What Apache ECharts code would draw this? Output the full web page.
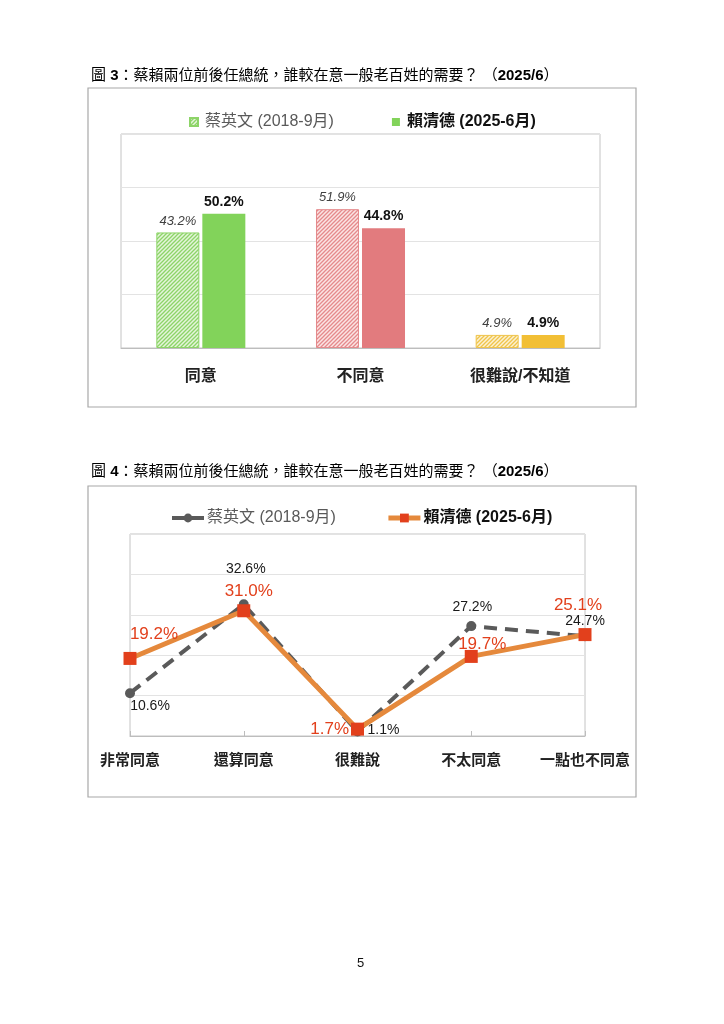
<!DOCTYPE html>
<html><head><meta charset="utf-8">
<script src="https://cdn.jsdelivr.net/npm/echarts@6/dist/echarts.min.js"></script>
<style>
html,body{margin:0;padding:0;background:#fff;width:724px;height:1024px;overflow:hidden}
#c1{position:absolute;left:0;top:0;width:724px;height:430px}
#c2{position:absolute;left:0;top:430px;width:724px;height:594px}
</style></head><body>
<div id="c1"></div><div id="c2"></div>
<script>
// ---- data ----
const seriesNames = ['蔡英文 (2018-9月)', '賴清德 (2025-6月)'];
const barCategories = ['同意', '不同意', '很難說/不知道'];
const tsaiBar = [43.2, 51.9, 4.9];
const laiBar = [50.2, 44.8, 4.9];
const lineCategories = ['非常同意', '還算同意', '很難說', '不太同意', '一點也不同意'];
const tsaiLine = [10.6, 32.6, 1.1, 27.2, 24.7];
const laiLine = [19.2, 31.0, 1.7, 19.7, 25.1];
const barTitle = '圖 {b|3}：蔡賴兩位前後任總統，誰較在意一般老百姓的需要？ （{b|2025/6}）';
const lineTitle = '圖 {b|4}：蔡賴兩位前後任總統，誰較在意一般老百姓的需要？ （{b|2025/6}）';
const pageNumber = '5';

// ---- styles ----
const FONT = "'Liberation Sans', Arial, 'Noto Sans CJK TC', sans-serif";
const solidColors = ['#82D35A', '#E27B7E', '#F2BF35'];
const hatchBg = ['#E4F5DA', '#FBE4E4', '#FCF1D2'];
const hatchFg = ['#8DD468', '#E58A8C', '#F0C44A'];

function hatch(bg, fg) {
  const c = document.createElement('canvas');
  c.width = 4; c.height = 4;
  const g = c.getContext('2d');
  g.fillStyle = bg; g.fillRect(0, 0, 4, 4);
  g.strokeStyle = fg; g.lineWidth = 1.3;
  g.beginPath();
  g.moveTo(0, 4); g.lineTo(4, 0);
  g.moveTo(-1, 1); g.lineTo(1, -1);
  g.moveTo(3, 5); g.lineTo(5, 3);
  g.stroke();
  return { image: c, repeat: 'repeat' };
}

const titleStyle = { fontFamily: FONT, fontSize: 15, fontWeight: 'normal', color: '#000',
  rich: { b: { fontFamily: FONT, fontSize: 15, fontWeight: 'bold', color: '#000' } } };

// ---- chart 1 (bars) ----
const c1 = echarts.init(document.getElementById('c1'), null, { renderer: 'canvas' });
c1.setOption({
  animation: false,
  textStyle: { fontFamily: FONT },
  title: { left: 86, top: 63, text: barTitle, textStyle: titleStyle },
  graphic: [{ type: 'rect', shape: { x: 88, y: 88, width: 548, height: 319 },
    style: { fill: 'none', stroke: '#A8A8A8', lineWidth: 1.2 }, silent: true }],
  legend: {
    left: 184, top: 109, itemWidth: 8, itemHeight: 8, itemGap: 58,
    textStyle: { fontFamily: FONT, fontSize: 16, color: '#595959', padding: [0, 0, 0, 2] },
    data: [
      { name: seriesNames[0], icon: 'rect' },
      { name: seriesNames[1], icon: 'rect', textStyle: { fontWeight: 'bold', color: '#111' } }
    ]
  },
  grid: { left: 121, right: 124, top: 134, height: 214, show: true, borderColor: '#C4C4C4', borderWidth: 1 },
  xAxis: {
    type: 'category', data: barCategories,
    axisLine: { lineStyle: { color: '#BDBDBD' } },
    axisTick: { inside: true, length: 5, lineStyle: { color: '#BDBDBD' } },
    axisLabel: { interval: 0, margin: 21, fontFamily: FONT, fontSize: 16, fontWeight: 'bold', color: '#222' }
  },
  yAxis: {
    type: 'value', min: 0, max: 80, interval: 20,
    axisLabel: { show: false }, axisLine: { show: false }, axisTick: { show: false },
    splitLine: { lineStyle: { color: '#E3E3E3' } }
  },
  series: [
    {
      name: seriesNames[0], type: 'bar', barWidth: 43, barGap: '7%',
      itemStyle: { color: hatch(hatchBg[0], hatchFg[0]), borderColor: hatchFg[0], borderWidth: 1 },
      label: { show: true, position: 'top', distance: 5, formatter: '{c}%',
        fontFamily: FONT, fontSize: 13, fontStyle: 'italic', color: '#404040' },
      data: tsaiBar.map((v, i) => ({ value: v,
        itemStyle: { color: hatch(hatchBg[i], hatchFg[i]), borderColor: hatchFg[i], borderWidth: 1 } }))
    },
    {
      name: seriesNames[1], type: 'bar', barWidth: 43,
      itemStyle: { color: solidColors[0] },
      label: { show: true, position: 'top', distance: 5, formatter: '{c}%',
        fontFamily: FONT, fontSize: 14, fontWeight: 'bold', color: '#111' },
      data: laiBar.map((v, i) => ({ value: v, itemStyle: { color: solidColors[i] } }))
    }
  ]
});

// ---- chart 2 (lines) ----
const tsaiLabelLayout = [
  { position: 'bottom', offset: [20, -4] },
  { position: 'top', offset: [2, -18] },
  { position: 'right', offset: [0, -1] },
  { position: 'top', offset: [1, -2] },
  { position: 'top', offset: [0, 2] }
];
const laiLabelLayout = [
  { position: 'top', offset: [24, -5] },
  { position: 'top', offset: [5, 0] },
  { position: 'left', offset: [2, 0] },
  { position: 'top', offset: [11, 7] },
  { position: 'top', offset: [-7, -10] }
];

const c2 = echarts.init(document.getElementById('c2'), null, { renderer: 'canvas' });
c2.setOption({
  animation: false,
  textStyle: { fontFamily: FONT },
  title: { left: 86, top: 29, text: lineTitle, textStyle: titleStyle },
  graphic: [
    { type: 'rect', shape: { x: 88, y: 56, width: 548, height: 311 },
      style: { fill: 'none', stroke: '#A8A8A8', lineWidth: 1.2 }, silent: true },
    { type: 'text', left: 357, top: 527,
      style: { text: pageNumber, font: '13px ' + FONT, fill: '#111' } }
  ],
  legend: {
    left: 165, top: 75, itemWidth: 32, itemHeight: 11, itemGap: 50,
    textStyle: { fontFamily: FONT, fontSize: 16, color: '#595959', padding: [0, 0, 0, -2] },
    data: [
      { name: seriesNames[0], lineStyle: { type: 'solid', width: 4 } },
      { name: seriesNames[1], lineStyle: { type: 'solid', width: 5 }, textStyle: { fontWeight: 'bold', color: '#111' } }
    ]
  },
  grid: { left: 130, right: 139, top: 104, height: 202, show: true, borderColor: '#C4C4C4', borderWidth: 1 },
  xAxis: {
    type: 'category', data: lineCategories, boundaryGap: false,
    axisLine: { lineStyle: { color: '#BDBDBD' } },
    axisTick: { inside: true, length: 5, lineStyle: { color: '#BDBDBD' } },
    axisLabel: { interval: 0, margin: 17, fontFamily: FONT, fontSize: 15, fontWeight: 'bold', color: '#222' }
  },
  yAxis: {
    type: 'value', min: 0, max: 50, interval: 10,
    axisLabel: { show: false }, axisLine: { show: false }, axisTick: { show: false },
    splitLine: { lineStyle: { color: '#E3E3E3' } }
  },
  series: [
    {
      name: seriesNames[0], type: 'line', symbol: 'circle', symbolSize: 10,
      lineStyle: { color: '#5A5A5A', width: 4, type: [13, 8] },
      itemStyle: { color: '#5A5A5A' },
      label: { show: true, formatter: '{c}%', fontFamily: FONT, fontSize: 14, color: '#1A1A1A', distance: 5 },
      data: tsaiLine.map((v, i) => ({ value: v, label: tsaiLabelLayout[i] }))
    },
    {
      name: seriesNames[1], type: 'line', symbol: 'rect', symbolSize: 13,
      lineStyle: { color: '#E5893C', width: 5 },
      itemStyle: { color: '#E2401C' },
      label: { show: true, formatter: (p) => p.value.toFixed(1) + '%', fontFamily: FONT, fontSize: 17, color: '#E2401C', distance: 4 },
      data: laiLine.map((v, i) => ({ value: v, label: laiLabelLayout[i] }))
    }
  ]
});
</script>
</body></html>
